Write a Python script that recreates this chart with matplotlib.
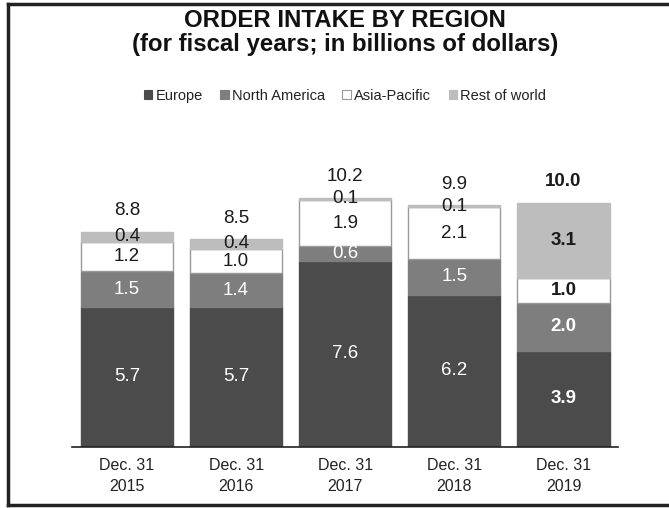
import matplotlib
matplotlib.use("Agg")
import matplotlib.pyplot as plt
from matplotlib.lines import Line2D
from matplotlib.patches import Patch
import numpy as np

plt.rcParams['font.family'] = ['Liberation Sans', 'DejaVu Sans']

categories = ["Dec. 31\n2015", "Dec. 31\n2016", "Dec. 31\n2017", "Dec. 31\n2018", "Dec. 31\n2019"]
europe = [5.7, 5.7, 7.6, 6.2, 3.9]
north_america = [1.5, 1.4, 0.6, 1.5, 2.0]
asia_pacific = [1.2, 1.0, 1.9, 2.1, 1.0]
rest_of_world = [0.4, 0.4, 0.1, 0.1, 3.1]
totals = [8.8, 8.5, 10.2, 9.9, 10.0]

series = [
    ("Europe", europe, "#4b4b4b", "#4b4b4b", "white"),
    ("North America", north_america, "#7e7e7e", "#7e7e7e", "white"),
    ("Asia-Pacific", asia_pacific, "white", "#9a9a9a", "#1a1a1a"),
    ("Rest of world", rest_of_world, "#bdbdbd", "#bdbdbd", "#1a1a1a"),
]

W, H = 669, 508
fig = plt.figure(figsize=(W / 100, H / 100), dpi=100)
ax_left, ax_right = 72.4 / W, 618 / W
ax_bottom = (H - 446.5) / H
ax_height = (12 * 24.4) / H
ax = fig.add_axes([ax_left, ax_bottom, ax_right - ax_left, ax_height])

x = np.arange(len(categories))
bottom = np.zeros(len(categories))
width = 0.845
for i, (name, vals, fc, ec, tc) in enumerate(series):
    vals = np.array(vals)
    ax.bar(x, vals, width, bottom=bottom, color=fc, edgecolor=ec, linewidth=1.0, label=name, zorder=2)
    for j, v in enumerate(vals):
        bold = (j == len(categories) - 1)
        ax.text(x[j], bottom[j] + v / 2, f"{v:.1f}", ha="center", va="center",
                fontsize=13.5, color=tc, fontweight="bold" if bold else "normal", zorder=3)
    bottom = bottom + vals

for j, t in enumerate(totals):
    bold = (j == len(categories) - 1)
    ax.annotate(f"{t:.1f}", (x[j], bottom[j]), xytext=(0, 15), textcoords="offset points",
                ha="center", va="center", fontsize=13.5, color="#1a1a1a",
                fontweight="bold" if bold else "normal")

ax.set_xlim(-0.5, 4.5)
ax.set_ylim(0, 12)
ax.set_xticks(x)
ax.set_xticklabels(categories, fontsize=11.5, color="#222222", linespacing=1.55)
ax.tick_params(axis="x", length=0, pad=8)
ax.set_yticks([])
for s in ["left", "right", "top"]:
    ax.spines[s].set_visible(False)
ax.spines["bottom"].set_color("#222222")
ax.spines["bottom"].set_linewidth(1.2)

cx = 345 / W
fig.text(cx, (H - 20.5) / H, "ORDER INTAKE BY REGION", ha="center", va="center",
         fontsize=17.3, fontweight="bold", color="#111111")
fig.text(cx, (H - 45) / H, "(for fiscal years; in billions of dollars)", ha="center", va="center",
         fontsize=17.3, fontweight="bold", color="#111111")

handles = [Patch(facecolor=fc, edgecolor=(ec if name == "Asia-Pacific" else fc), linewidth=0.8, label=name)
           for name, vals, fc, ec, tc in series]
fig.legend(handles=handles, loc="center", bbox_to_anchor=(cx, (H - 96) / H), ncol=4, frameon=False,
           fontsize=10.5, handlelength=0.6, handleheight=0.6, handletextpad=0.2, columnspacing=1.2,
           labelcolor="#222222")

lw = 2.5
fig.add_artist(Line2D([7.5 / W, 7.5 / W], [(H - 4) / H, (H - 505) / H], color="#222222", linewidth=lw,
                      transform=fig.transFigure, solid_capstyle="projecting"))
fig.add_artist(Line2D([7.5 / W, 1.0], [(H - 4) / H, (H - 4) / H], color="#222222", linewidth=lw,
                      transform=fig.transFigure))
fig.add_artist(Line2D([7.5 / W, 1.0], [(H - 505) / H, (H - 505) / H], color="#222222", linewidth=lw,
                      transform=fig.transFigure))

fig.savefig("out.png", dpi=100)
